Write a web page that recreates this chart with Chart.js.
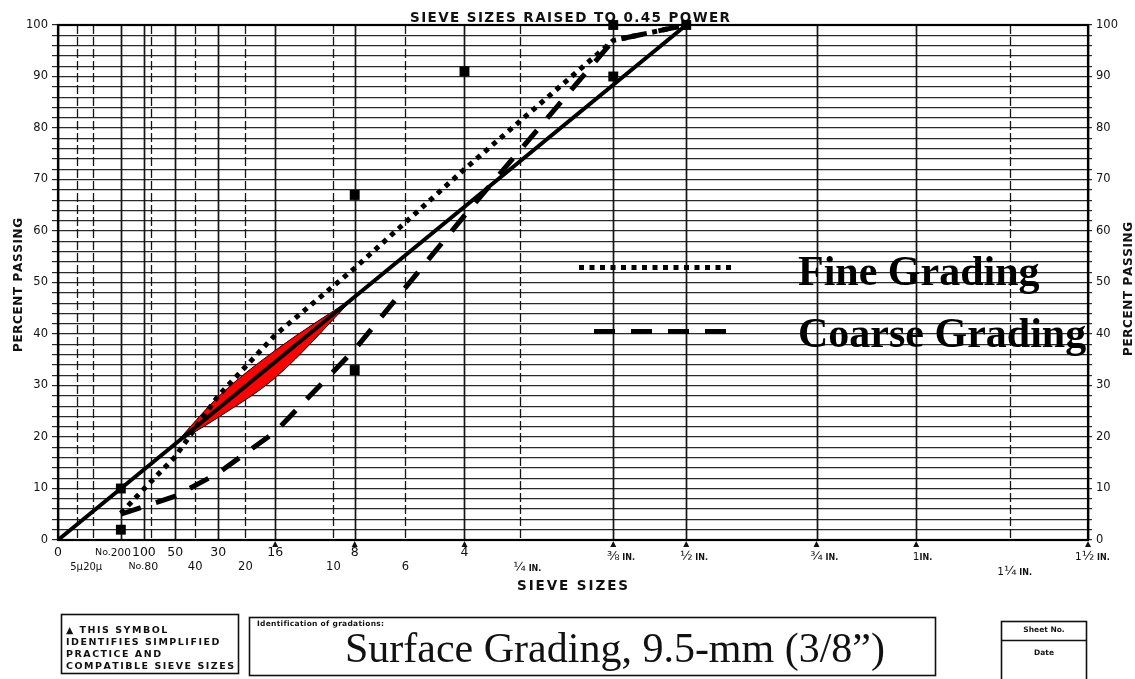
<!DOCTYPE html>
<html>
<head>
<meta charset="utf-8">
<title>Surface Grading, 9.5-mm (3/8”)</title>
<script src="https://cdn.jsdelivr.net/npm/chart.js@4/dist/chart.umd.min.js"></script>
<style>
  html, body { margin: 0; padding: 0; background: #fff; }
  #wrap { width: 1135px; height: 679px; position: relative; }
  canvas { display: block; }
</style>
</head>
<body>
<div id="wrap"><canvas id="c" width="1135" height="679"></canvas></div>
<script>
// ---- sieve sizes (openings in mm) and their printed names ----
const sieveNames = ['0', '5µ', '20µ', 'No.200', '100', 'No.80', '50', '40', '30', '20', '16', '10', '8', '6', '4',
                    '¼ IN.', '⅜ IN.', '½ IN.', '¾ IN.', '1 IN.', '1¼ IN.', '1½ IN.'];
const sieveMm = [0, 0.005, 0.02, 0.075, 0.15, 0.18, 0.3, 0.425, 0.6, 0.85, 1.18, 2.0, 2.36, 3.35, 4.75,
                 6.3, 9.5, 12.5, 19, 25, 31.5, 37.5];
// sizes printed on the lower label row, drawn with broken lines
const intermediateSieves = ['5µ', '20µ', 'No.80', '40', '20', '10', '6', '¼ IN.', '1¼ IN.'];
// sizes flagged with the ▲ symbol
const simplifiedPracticeSieves = ['16', '8', '4', '⅜ IN.', '½ IN.', '¾ IN.', '1 IN.', '1½ IN.'];

// ---- gradations (percent passing) ----
const gradationSieves = [0.075, 0.15, 0.3, 0.6, 1.18, 2.36, 4.75, 9.5, 12.5];
const fineGrading   = [5.2, 9.9, 16.2, 28.0, 39.8, 52.8, 72.0, 97.0, 100];
const coarseGrading = [5.0, 6.5, 8.5, 13.0, 21.0, 37.0, 63.0, 97.0, 100];

// maximum density line for 12.5 mm maximum size
const maxDensitySieves = [0, 12.5];
const maxDensityPassing = [0, 100];

// control points
const controlSieves  = [0.075, 0.075, 2.36, 2.36, 4.75, 9.5, 9.5, 12.5];
const controlPassing = [2, 10, 33, 67, 91, 90, 100, 100];

// restricted zone
const zoneSieves = [0.3, 0.6, 1.18, 2.36];
const zoneUpper  = [18.7, 27.8, 36.8, 47.2];
const zoneLower  = [18.7, 23.8, 31.5, 47.2];

const seriesNames = ['Control points', 'Maximum density line', 'Fine Grading', 'Coarse Grading', 'Restricted zone', 'Restricted zone (lower)'];

// ---- helpers ----
const POWER = 0.45;
const toX = mm => Math.pow(mm, POWER);
const pts = (xs, ys) => xs.map((m, i) => ({ x: toX(m), y: ys[i] }));

const SANS = "'DejaVu Sans', 'Noto Sans', sans-serif";
const SERIF = "'Liberation Serif', 'Times New Roman', serif";
const FRACTIONS = '¼½¾⅜';

// draw text letter by letter so it spans a given width
function spacedText(ctx, text, left, y, width) {
  const chars = [...text];
  const widths = chars.map(c => ctx.measureText(c).width);
  const total = widths.reduce((a, b) => a + b, 0);
  const gap = chars.length > 1 ? (width - total) / (chars.length - 1) : 0;
  let x = left;
  ctx.textAlign = 'left';
  chars.forEach((c, i) => { ctx.fillText(c, x, y); x += widths[i] + gap; });
  return gap;
}
function spacedWithGap(ctx, text, left, y, gap) {
  let x = left;
  ctx.textAlign = 'left';
  [...text].forEach(c => { ctx.fillText(c, x, y); x += ctx.measureText(c).width + gap; });
}

// split a sieve name into pieces with their fonts; `anchor` is the piece centred on the line
function labelPieces(name, lower) {
  const numFont = `${lower ? 11.5 : 12.5}px ${SANS}`;
  const smallFont = `9.5px ${SANS}`;
  const inFont = `bold 8px ${SANS}`;
  if (name.startsWith('No.')) {
    return { pieces: [{ t: 'No.', f: smallFont }, { t: name.slice(3), f: `${lower ? 11 : 10.5}px ${SANS}` }], anchor: 1 };
  }
  if (name.endsWith(' IN.')) {
    const head = name.slice(0, name.length - 4);
    const chars = [...head];
    const fi = chars.findIndex(c => FRACTIONS.includes(c));
    const fracFont = `13px ${SANS}`;
    if (fi > 0) {
      return { pieces: [{ t: chars.slice(0, fi).join(''), f: `10.5px ${SANS}` }, { t: chars[fi], f: fracFont }, { t: ' IN.', f: inFont }], anchor: 1 };
    }
    if (fi === 0) {
      return { pieces: [{ t: head, f: fracFont }, { t: ' IN.', f: inFont }], anchor: 0 };
    }
    return { pieces: [{ t: head, f: `10.5px ${SANS}` }, { t: 'IN.', f: inFont }], anchor: 0 };
  }
  if (name.includes('µ')) return { pieces: [{ t: name, f: `10px ${SANS}` }], anchor: 0 };
  return { pieces: [{ t: name, f: numFont }], anchor: 0 };
}

const sheetPlugin = {
  id: 'gradationSheet',
  beforeDatasetsDraw(chart) {
    const { ctx, chartArea: a, scales: { x } } = chart;
    ctx.save();
    ctx.fillStyle = '#111';
    ctx.strokeStyle = '#151515';

    // vertical sieve lines
    sieveMm.forEach((mm, i) => {
      const px = Math.round(x.getPixelForValue(toX(mm))) + 0.5;
      const inter = intermediateSieves.includes(sieveNames[i]);
      ctx.beginPath();
      ctx.setLineDash(inter ? [9, 3] : []);
      ctx.lineWidth = inter ? 1.3 : 1.7;
      ctx.moveTo(px, a.top);
      ctx.lineTo(px, a.bottom);
      ctx.stroke();
    });
    ctx.setLineDash([]);

    // frame
    ctx.lineWidth = 2.2;
    ctx.strokeStyle = '#000';
    ctx.strokeRect(a.left, a.top, a.right - a.left, a.bottom - a.top);

    // ▲ marks under the simplified-practice sizes
    sieveMm.forEach((mm, i) => {
      if (!simplifiedPracticeSieves.includes(sieveNames[i])) return;
      const px = x.getPixelForValue(toX(mm));
      ctx.beginPath();
      ctx.moveTo(px, a.bottom + 1);
      ctx.lineTo(px - 3, a.bottom + 7);
      ctx.lineTo(px + 3, a.bottom + 7);
      ctx.closePath();
      ctx.fill();
    });

    // sieve labels
    ctx.textBaseline = 'middle';
    ctx.textAlign = 'left';
    sieveMm.forEach((mm, i) => {
      const name = sieveNames[i];
      const px = x.getPixelForValue(toX(mm));
      const lower = intermediateSieves.includes(name);
      const inch = name.endsWith('IN.');
      const y = inch ? (lower ? (name.startsWith('1') ? 572 : 568) : 557) : (lower ? 567 : 553);
      const { pieces, anchor } = labelPieces(name, lower);
      const widths = pieces.map(p => { ctx.font = p.f; return ctx.measureText(p.t).width; });
      let left = px - widths[anchor] / 2;
      for (let k = 0; k < anchor; k++) left -= widths[k];
      pieces.forEach((p, k) => {
        ctx.font = p.f;
        const dy = p.t.includes('IN.') ? 1 : 0;
        ctx.fillText(p.t, left, y + dy);
        left += widths[k];
      });
    });

    // headings
    ctx.textBaseline = 'alphabetic';
    ctx.font = `bold 13.5px ${SANS}`;
    spacedText(ctx, 'SIEVE SIZES RAISED TO 0.45 POWER', 410, 22, 320);
    ctx.font = `bold 13.5px ${SANS}`;
    spacedText(ctx, 'SIEVE SIZES', 517, 590, 111);

    // rotated axis titles
    ctx.font = `bold 12px ${SANS}`;
    [[22, 285], [1132, 289]].forEach(([cx, cy]) => {
      ctx.save();
      ctx.translate(cx, cy);
      ctx.rotate(-Math.PI / 2);
      spacedText(ctx, 'PERCENT PASSING', -67, 0, 134);
      ctx.restore();
    });

    // title block boxes
    ctx.lineWidth = 1.6;
    ctx.strokeStyle = '#111';
    ctx.strokeRect(61.5, 614.5, 177, 59);
    ctx.strokeRect(249.5, 617.5, 686, 58);
    ctx.strokeRect(1001.5, 621.5, 85, 62);
    ctx.beginPath();
    ctx.moveTo(1001.5, 640.5); ctx.lineTo(1086.5, 640.5);
    ctx.stroke();

    ctx.font = `bold 9.5px ${SANS}`;
    const gap = spacedText(ctx, 'COMPATIBLE SIEVE SIZES', 66, 669, 168);
    spacedWithGap(ctx, '▲ THIS SYMBOL', 66, 633, gap);
    spacedWithGap(ctx, 'IDENTIFIES SIMPLIFIED', 66, 645, gap);
    spacedWithGap(ctx, 'PRACTICE AND', 66, 657, gap);

    ctx.font = `bold 7.5px ${SANS}`;
    spacedText(ctx, 'Identification of gradations:', 257, 626, 127);

    ctx.font = `42px ${SERIF}`;
    ctx.textAlign = 'center';
    ctx.fillText('Surface Grading, 9.5-mm (3/8”)', 615, 662);

    ctx.font = `bold 7.5px ${SANS}`;
    ctx.fillText('Sheet No.', 1044, 632);
    ctx.fillText('Date', 1044, 655);
    ctx.restore();
  },
  afterDatasetsDraw(chart) {
    // legend for the two gradations
    const { ctx } = chart;
    const entries = [
      { ds: chart.data.datasets[2], x1: 579, x2: 733, y: 267.5, ty: 285 },
      { ds: chart.data.datasets[3], x1: 594, x2: 727, y: 331.5, ty: 347 }
    ];
    ctx.save();
    entries.forEach(e => {
      ctx.beginPath();
      ctx.setLineDash(e.ds.borderDash);
      ctx.lineCap = 'butt';
      ctx.lineWidth = e.ds.borderWidth;
      ctx.strokeStyle = e.ds.borderColor;
      ctx.moveTo(e.x1, e.y);
      ctx.lineTo(e.x2, e.y);
      ctx.stroke();
      ctx.setLineDash([]);
      ctx.font = `bold 42px ${SERIF}`;
      ctx.fillStyle = '#000';
      ctx.textAlign = 'left';
      ctx.textBaseline = 'alphabetic';
      ctx.fillText(e.ds.label, 798, e.ty);
    });
    ctx.restore();
  }
};

const yTicks = {
  stepSize: 2,
  autoSkip: false,
  color: '#111',
  font: { family: SANS, size: 11.5 },
  callback: v => (v % 10 === 0 ? String(v) : '')
};

new Chart(document.getElementById('c'), {
  type: 'line',
  data: {
    datasets: [
      {
        label: seriesNames[0], data: pts(controlSieves, controlPassing),
        showLine: false, pointStyle: 'rect', pointRadius: 7, pointHoverRadius: 7,
        backgroundColor: '#000', borderColor: '#000', pointBorderWidth: 0, order: 0, clip: false
      },
      {
        label: seriesNames[1], data: pts(maxDensitySieves, maxDensityPassing),
        borderColor: '#000', borderWidth: 4, pointRadius: 0, order: 1
      },
      {
        label: seriesNames[2], data: pts(gradationSieves, fineGrading),
        borderColor: '#000', borderWidth: 5, borderDash: [5, 5.5], borderCapStyle: 'butt',
        pointRadius: 0, order: 2
      },
      {
        label: seriesNames[3], data: pts(gradationSieves, coarseGrading),
        borderColor: '#000', borderWidth: 5, borderDash: [21, 16], borderCapStyle: 'butt',
        pointRadius: 0, order: 3
      },
      {
        label: seriesNames[4], data: pts(zoneSieves, zoneUpper),
        borderColor: '#000', borderWidth: 1, backgroundColor: '#ff0000', fill: '+1',
        cubicInterpolationMode: 'monotone', pointRadius: 0, order: 5
      },
      {
        label: seriesNames[5], data: pts(zoneSieves, zoneLower),
        borderColor: '#000', borderWidth: 1, fill: false,
        cubicInterpolationMode: 'monotone', pointRadius: 0, order: 4
      }
    ]
  },
  options: {
    responsive: false,
    animation: false,
    events: [],
    layout: { padding: { left: 0, right: 0, top: 25, bottom: 139 } },
    plugins: { legend: { display: false }, tooltip: { enabled: false } },
    scales: {
      x: { type: 'linear', min: 0, max: toX(37.5), display: false },
      y: {
        position: 'left', min: 0, max: 100,
        ticks: { ...yTicks, padding: 4 },
        grid: { color: '#2a2a2a', lineWidth: 1.2, tickLength: 6, tickColor: '#2a2a2a' },
        border: { display: false },
        afterFit: s => { s.width = 58; }
      },
      y2: {
        position: 'right', min: 0, max: 100,
        ticks: { ...yTicks, padding: 4 },
        grid: { drawOnChartArea: false, tickLength: 4, color: '#2a2a2a', lineWidth: 1.2 },
        border: { display: false },
        afterFit: s => { s.width = 47; }
      }
    }
  },
  plugins: [sheetPlugin]
});
</script>
</body>
</html>
